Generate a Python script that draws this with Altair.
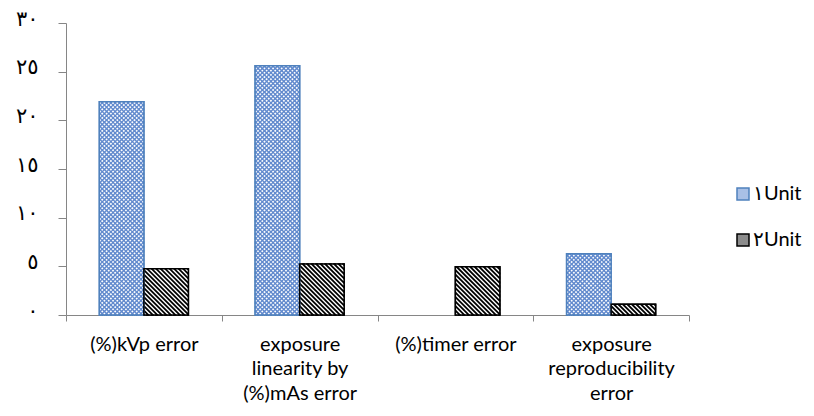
import json

import altair as alt
import numpy as np
import pandas as pd

# ---- chart values -------------------------------------------------------
category_lines = [
    ["(%)kVp error"],
    ["exposure", "linearity by", "(%)mAs error"],
    ["(%)timer error"],
    ["exposure", "reproducibility", "error"],
]
units = ["\u0661Unit", "\u0662Unit"]
unit1_values = [21.9, 25.6, 0.0, 6.3]
unit2_values = [4.75, 5.25, 4.95, 1.1]
y_tick_values = [0, 5, 10, 15, 20, 25, 30]
y_tick_labels = ["\u0660", "\u0665", "\u0661\u0660", "\u0661\u0665",
                 "\u0662\u0660", "\u0662\u0665", "\u0663\u0660"]

# ---- layout / style -----------------------------------------------------
PLOT_W, PLOT_H = 623, 292
Y_MAX = 30
N_CAT = len(category_lines)
BAR = 1 / 3.5                      # bar width as a fraction of a category
KX = PLOT_W / N_CAT                # pixels per x unit
KY = PLOT_H / Y_MAX                # pixels per y unit

base_fill = ["#a9c0e6", "#8c8c8c"]  # legend swatch / under-colour
edge_color = ["#4f81bd", "#000000"]

# pattern per unit: list of (direction, period px, offset fraction, colour, width)
patterns = [
    [("back", 4.3, 0.5, "#ffffff", 1.2), ("fwd", 4.3, 0.5, "#ffffff", 1.2),
     ("back", 4.3, 0.0, "#6089cd", 1.3), ("fwd", 4.3, 0.0, "#6089cd", 1.3)],
    [("back", 4.5, 0.5, "#ffffff", 1.5), ("back", 4.5, 0.0, "#000000", 1.7)],
]

# ---- bar table ----------------------------------------------------------
rows = []
for i in range(N_CAT):
    for j, vals in enumerate([unit1_values, unit2_values]):
        x0 = i + 0.5 - BAR + j * BAR
        rows.append({"unit": units[j], "j": j, "x0": x0, "x1": x0 + BAR,
                     "val": vals[i], "edge": edge_color[j]})
bars = pd.DataFrame(rows)
drawn = bars[bars["val"] > 0]


def hatch(x0, x1, top, direction, period, offset, color, width):
    """Diagonal hatch segments clipped to one bar, in data units."""
    wp, up = (x1 - x0) * KX, top * KY
    segs = []
    if direction == "back":            # "\" lines: u + p = c
        for c in np.arange(offset * period, wp + up, period):
            pa, pb = max(0.0, c - up), min(wp, c)
            if pb > pa:
                segs.append((pa, c - pa, pb, c - pb))
    else:                              # "/" lines: u - p = d
        for d in np.arange(-wp + offset * period, up, period):
            pa, pb = max(0.0, -d), min(wp, up - d)
            if pb > pa:
                segs.append((pa, pa + d, pb, pb + d))
    return [{"hx": x0 + a / KX, "hy": b / KY, "hx2": x0 + c / KX,
             "hy2": d / KY, "col": color, "sw": width}
            for a, b, c, d in segs]


hatch_rows = []
for _, r in drawn.iterrows():
    for spec in patterns[r["j"]]:
        hatch_rows += hatch(r["x0"], r["x1"], r["val"], *spec)
hatch_df = pd.DataFrame(hatch_rows)

# ---- encodings ----------------------------------------------------------
label_expr_x = ("datum.value % 1 == 0 ? '' : "
                + json.dumps(category_lines, ensure_ascii=False)
                + "[floor(datum.value)]")
label_expr_y = (json.dumps(y_tick_labels, ensure_ascii=False)
                + "[indexof(" + json.dumps(y_tick_values) + ", datum.value)]")

x_scale = alt.Scale(domain=[0, N_CAT], nice=False, zero=False)
y_scale = alt.Scale(domain=[0, Y_MAX], nice=False)

x_axis = alt.Axis(
    values=[k / 2 for k in range(2 * N_CAT + 1)],
    labelExpr=label_expr_x, title=None, grid=False,
    domainColor="#868686", tickColor="#868686", tickSize=6,
    tickOpacity={"condition": {"test": "datum.value % 1 != 0", "value": 0},
                 "value": 1},
    labelFont="Lato", labelFontSize=20, labelColor="#000000",
    labelPadding=13, labelLineHeight=24.5, labelOverlap=False,
    labelFlush=False, labelBaseline="top",
)
y_axis = alt.Axis(
    values=y_tick_values, labelExpr=label_expr_y, title=None, grid=False,
    domainColor="#868686", tickColor="#868686", tickSize=8,
    labelFont="DejaVu Sans", labelFontSize=21, labelColor="#000000",
    labelPadding=20, labelOffset=-4,
)

base = alt.Chart(drawn).mark_bar(strokeWidth=1.5).encode(
    x=alt.X("x0:Q", scale=x_scale, axis=x_axis),
    x2="x1",
    y=alt.Y("val:Q", scale=y_scale, axis=y_axis),
    y2=alt.datum(0),
    fill=alt.Fill("unit:N", scale=alt.Scale(domain=units, range=base_fill),
                  legend=alt.Legend(title=None)),
    stroke=alt.Stroke("unit:N", scale=alt.Scale(domain=units, range=edge_color),
                      legend=alt.Legend(title=None)),
)

lines = alt.Chart(hatch_df).mark_rule().encode(
    x="hx:Q", x2="hx2", y="hy:Q", y2="hy2",
    color=alt.Color("col:N", scale=None),
    strokeWidth=alt.StrokeWidth("sw:Q", scale=None),
)

outline = alt.Chart(drawn).mark_bar(fillOpacity=0, strokeWidth=1.5).encode(
    x="x0:Q", x2="x1", y="val:Q", y2=alt.datum(0),
    stroke=alt.Stroke("edge:N", scale=None),
)

chart = alt.layer(base, lines, outline).properties(
    width=PLOT_W, height=PLOT_H,
    autosize=alt.AutoSizeParams(type="none"),
    padding={"left": 66, "top": 23, "right": 814 - 66 - PLOT_W,
             "bottom": 416 - 23 - PLOT_H},
    background="#ffffff",
).configure_view(stroke=None).configure_legend(
    orient="none", legendX=667, legendY=161, padding=0,
    symbolType="square", symbolSize=144, symbolStrokeWidth=1.5,
    labelFont="Lato", labelFontSize=20, labelColor="#000000",
    labelOffset=0, rowPadding=26,
)

chart.save("out.html", embed_options={"renderer": "svg", "actions": False})
